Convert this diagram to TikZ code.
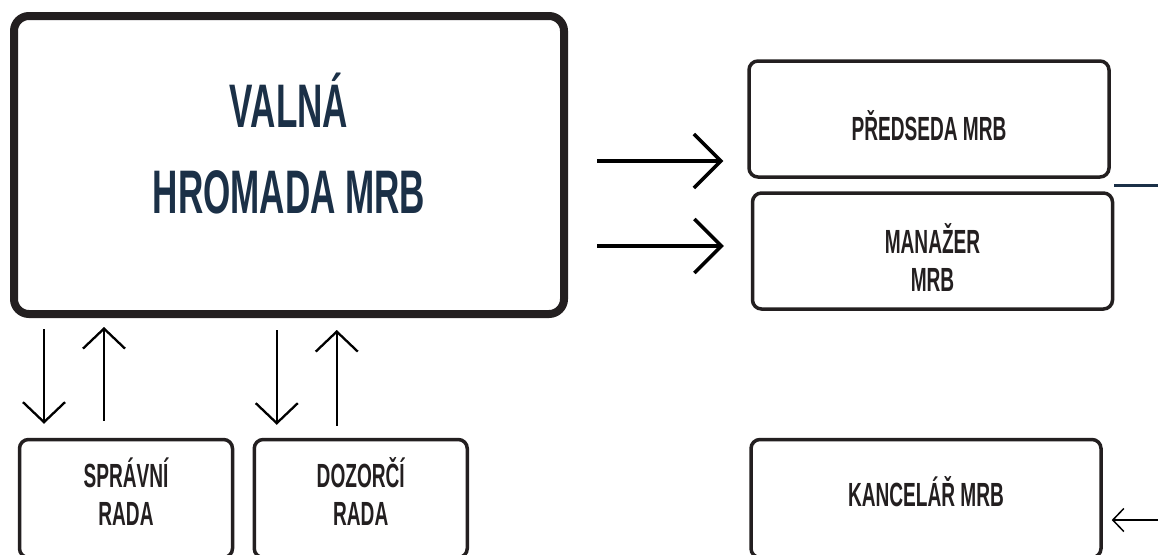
\documentclass[tikz,border=0pt]{standalone}
\usepackage{fontspec}
\setmainfont{Liberation Sans}[FakeStretch=0.57]
\usepackage{tikz}
\usetikzlibrary{positioning}
\usetikzlibrary{arrows.meta}
\definecolor{ink}{HTML}{231F20}
\definecolor{navy}{HTML}{1B3047}
\tikzset{
    bigbox/.style={draw=ink, line width=8pt, rounded corners=15pt, align=center,
        text=navy, font=\fontsize{61.5}{86}\selectfont\bfseries},
    smallbox/.style={draw=ink, line width=3.5pt, rounded corners=9pt, align=center,
        text=ink, font=\fontsize{33.5}{38}\selectfont\bfseries},
    bigarrow/.style={draw=black, line width=3.5pt, -{Straight Barb[length=27pt,width=54pt]}},
    vertarrow/.style={draw=black, line width=2.3pt, -{Straight Barb[length=20pt,width=42pt]}},
    thinarrow/.style={draw=black, line width=1.5pt, -{Straight Barb[length=11pt,width=23pt]}}
}

\begin{document}
\begin{tikzpicture}[x=1pt, y=-1pt]
            \useasboundingbox (0,0) rectangle (1158,554);
            \clip (0,0) rectangle (1158,554);
            \fill[white] (0,0) rectangle (1158,554);

            \node (vh) [bigbox, minimum width=550pt, minimum height=298pt, text height=136pt, text depth=40pt] at (289,165) {VALNÁ\\HROMADA MRB};
            \node (pr) [smallbox, minimum width=360pt, minimum height=116pt, text height=42pt, text depth=0pt]  at (929,119)   {PŘEDSEDA MRB};
            \node (mg) [smallbox, minimum width=360pt, minimum height=116pt, text height=90pt, text depth=10pt] at (932.5,251) {MANAŽER\\MRB};
            \node (sp) [smallbox, minimum width=213pt, minimum height=118pt, text height=73pt, text depth=20pt] at (126,498.5) {SPRÁVNÍ\\RADA};
            \node (dz) [smallbox, minimum width=213pt, minimum height=118pt, text height=73pt, text depth=20pt] at (360.75,498.5) {DOZORČÍ\\RADA};
            \node (kc) [smallbox, minimum width=350pt, minimum height=118pt, text height=30pt, text depth=15pt] at (926,498.5) {KANCELÁŘ MRB};

            \coordinate (rgt) at (1160,185);
            \coordinate (kin) at (1160,520);

            % arrows to the right
            \draw[bigarrow, shorten <=29pt, shorten >=24pt] ([yshift=4pt]vh.east) -- ([yshift=4pt]vh.east -| pr.west);
            \draw[bigarrow, shorten <=29pt, shorten >=27pt] ([yshift=-81pt]vh.east) -- ([yshift=-81pt]vh.east -| mg.west);

            % arrows down and up
            \draw[vertarrow, shorten <=11pt, shorten >=14pt] ([xshift=-82pt]sp.north |- vh.south) -- ([xshift=-82pt]sp.north);
            \draw[vertarrow, shorten <=17pt, shorten >=9pt]  ([xshift=-22pt]sp.north) -- ([xshift=-22pt]sp.north |- vh.south);
            \draw[vertarrow, shorten <=12pt, shorten >=13pt] ([xshift=-84pt]dz.north |- vh.south) -- ([xshift=-84pt]dz.north);
            \draw[vertarrow, shorten <=12pt, shorten >=12pt] ([xshift=-24pt]dz.north) -- ([xshift=-24pt]dz.north |- vh.south);

            % lines at the right edge
            \draw[navy, line width=3pt] (rgt) -- (rgt -| mg.east);
            \draw[thinarrow, shorten >=9pt] (kin) -- (kin -| kc.east);
        \end{tikzpicture}
\end{document}
